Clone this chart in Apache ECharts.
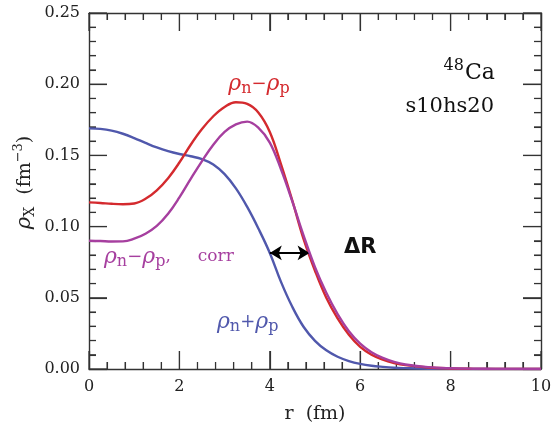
<!DOCTYPE html>
<html>
<head>
<meta charset="utf-8">
<script src="https://cdn.jsdelivr.net/npm/echarts@6/dist/echarts.min.js"></script>
<style>html,body{margin:0;padding:0;background:#fff}#c{width:554px;height:425px}</style>
</head>
<body>
<div id="c"></div>
<script>
// radius grid (fm)
var rValues = [0,0.25,0.5,0.75,1.0,1.25,1.5,1.75,2.0,2.25,2.5,2.75,3.0,3.25,3.5,3.75,4.0,4.25,4.5,4.75,5.0,5.25,5.5,5.75,6.0,6.25,6.5,6.75,7.0,7.5,8.0,8.5,9.0,10.0];
// rho_n + rho_p
var rhoSum = [0.1690,0.1686,0.1674,0.1652,0.1622,0.1588,0.1556,0.1530,0.1510,0.1494,0.1474,0.1436,0.1368,0.1268,0.1138,0.0985,0.0815,0.0610,0.0435,0.0295,0.0198,0.0131,0.0086,0.0056,0.0036,0.0023,0.0015,0.0009,0.0006,0.0002,0.0001,0.0,0.0,0.0];
// rho_n - rho_p
var rhoDiff = [0.1170,0.1166,0.1160,0.1157,0.1162,0.1195,0.1255,0.1340,0.1450,0.1575,0.1685,0.1775,0.1840,0.1873,0.1862,0.1800,0.1665,0.1435,0.1180,0.0910,0.0690,0.0500,0.0355,0.0240,0.0155,0.0100,0.0065,0.0042,0.0027,0.0011,0.0004,0.0001,0.0,0.0];
// rho_n - rho_p, corr
var rhoDiffCorr = [0.0901,0.0899,0.0895,0.0896,0.0915,0.0950,0.1005,0.1090,0.1205,0.1335,0.1460,0.1575,0.1665,0.1718,0.1737,0.1693,0.1590,0.1400,0.1175,0.0935,0.0715,0.0535,0.0385,0.0265,0.0178,0.0118,0.0078,0.0050,0.0032,0.0013,0.0005,0.0002,0.0001,0.0];
// Delta R arrow (r from, r to, height)
var deltaR = {from: 4.0, to: 4.88, y: 0.0815};

// tick positions (major + minor)
var xTickValues = [0,0.4,0.8,1.2,1.6,2,2.4,2.8,3.2,3.6,4,4.4,4.8,5.2,5.6,6,6.4,6.8,7.2,7.6,8,8.4,8.8,9.2,9.6,10];
var yTickValues = [0,0.01,0.02,0.03,0.04,0.05,0.06,0.07,0.08,0.09,0.10,0.11,0.12,0.13,0.14,0.15,0.16,0.17,0.18,0.19,0.20,0.21,0.22,0.23,0.24,0.25];

var xRange = {min: 0, max: 10, interval: 2};
var yRange = {min: 0, max: 0.25, interval: 0.05};

function pairs(ys){ return rValues.map(function(r,i){ return [r, ys[i]]; }); }

var SERIF = '"DejaVu Serif", serif';
var AX = '#333';
var RED = '#d42a2e', PUR = '#a63f9f', BLU = '#5058ac';
var MAJOR_LEN = 18, MINOR_LEN = 7;

function axis(pos, showLabel, range){
  return {
    type: 'value', position: pos, min: range.min, max: range.max, interval: range.interval,
    axisLine: {show: true, onZero: false, lineStyle: {color: AX, width: 1.4}},
    axisTick: {show: true, inside: true, length: MAJOR_LEN, lineStyle: {color: AX, width: 1.2}},
    minorTick: {show: true, splitNumber: 5, length: MINOR_LEN, lineStyle: {color: AX, width: 1.1}},
    splitLine: {show: false},
    axisLabel: {show: showLabel, fontFamily: SERIF, fontSize: 16, color: '#222', margin: pos === 'bottom' ? 10 : 9}
  };
}

var yLeft = axis('left', true, yRange);
yLeft.axisLabel.formatter = function(v){ return v.toFixed(2); };

function isMajor(v, step){ var q = v / step; return Math.abs(q - Math.round(q)) < 1e-6; }
function tickSeries(side){
  var isX = side === 'bottom' || side === 'top';
  var data = isX ? xTickValues.map(function(v){ return [v, yRange.min]; })
                 : yTickValues.map(function(v){ return [xRange.min, v]; });
  return {
    type: 'custom', name: 'ticks-' + side, silent: true, clip: false, z: 2, data: data,
    renderItem: function(params, api){
      var vx = api.value(0), vy = api.value(1), p, len, s;
      if (isX) {
        len = isMajor(vx, xRange.interval) ? MAJOR_LEN : MINOR_LEN;
        if (side === 'bottom') { p = api.coord([vx, yRange.min]); s = {x1: p[0], y1: p[1], x2: p[0], y2: p[1] - len}; }
        else { p = api.coord([vx, yRange.max]); s = {x1: p[0], y1: p[1], x2: p[0], y2: p[1] + len}; }
      } else {
        len = isMajor(vy, yRange.interval) ? MAJOR_LEN : MINOR_LEN;
        if (side === 'left') { p = api.coord([xRange.min, vy]); s = {x1: p[0], y1: p[1], x2: p[0] + len, y2: p[1]}; }
        else { p = api.coord([xRange.max, vy]); s = {x1: p[0], y1: p[1], x2: p[0] - len, y2: p[1]}; }
      }
      return {type: 'line', shape: s, style: {stroke: AX, lineWidth: 1.2}};
    }
  };
}

var chart = echarts.init(document.getElementById('c'));
chart.setOption({
  animation: false,
  backgroundColor: '#fff',
  grid: {left: 89, right: 13, top: 13, bottom: 56, outerBoundsMode: 'none'},
  xAxis: [axis('bottom', true, xRange), axis('top', false, xRange)],
  yAxis: [yLeft, axis('right', false, yRange)],
  series: [
    tickSeries('bottom'), tickSeries('top'), tickSeries('left'), tickSeries('right'),
    {type: 'line', name: 'sum', data: pairs(rhoSum), smooth: 0.4, showSymbol: false, lineStyle: {color: BLU, width: 2.4}, z: 3,
      markLine: {silent: true, symbol: ['arrow', 'arrow'], symbolSize: [11, 12], label: {show: false},
        lineStyle: {color: '#000', width: 2, type: 'solid'},
        data: [[{coord: [deltaR.from, deltaR.y]}, {coord: [deltaR.to, deltaR.y]}]]}},
    {type: 'line', name: 'diff', data: pairs(rhoDiff), smooth: 0.4, showSymbol: false, lineStyle: {color: RED, width: 2.4}, z: 4},
    {type: 'line', name: 'corr', data: pairs(rhoDiffCorr), smooth: 0.4, showSymbol: false, lineStyle: {color: PUR, width: 2.4}, z: 5}
  ]
});

// text annotations placed through the chart's coordinate conversion
function rhoRich(color){
  return {
    rho: {fontFamily: SERIF, fontStyle: 'italic', fontSize: 22, fill: color},
    sub: {fontFamily: SERIF, fontSize: 16, fill: color, padding: [10, 0, 0, 0]},
    op: {fontFamily: SERIF, fontSize: 18, fill: color},
    t: {fontFamily: SERIF, fontSize: 17, fill: color}
  };
}
function txt(pos, text, rich, align, extra){
  var p = chart.convertToPixel({gridIndex: 0}, pos);
  var el = {type: 'text', x: p[0], y: p[1], z: 50, silent: true,
    style: {text: text, rich: rich, align: align || 'center', verticalAlign: 'middle'}};
  if (extra) Object.assign(el, extra);
  return el;
}
var graphics = [
  txt([3.76, 0.200], '{rho|ρ}{sub|n}{op|−}{rho|ρ}{sub|p}', rhoRich(RED)),
  txt([0.33, 0.0787], '{rho|ρ}{sub|n}{op|−}{rho|ρ}{sub|p}{t|,     corr}', rhoRich(PUR), 'left'),
  txt([2.83, 0.033], '{rho|ρ}{sub|n}{op|+}{rho|ρ}{sub|p}', rhoRich(BLU), 'left'),
  txt([6.0, 0.0855], '{d|ΔR}', {d: {fontFamily: '"DejaVu Sans", sans-serif', fontWeight: 'bold', fontSize: 21, fill: '#111'}}),
  txt([8.98, 0.208], '{s|48}{c|Ca}', {s: {fontFamily: SERIF, fontSize: 16, fill: '#111', padding: [0, 1, 13, 0]}, c: {fontFamily: SERIF, fontSize: 22, fill: '#111'}}, 'right'),
  txt([8.96, 0.1840], '{c|s10hs20}', {c: {fontFamily: SERIF, fontSize: 21, fill: '#111'}}, 'right'),
  // axis titles
  txt([5, 0], '{n|r  (fm)}', {n: {fontFamily: SERIF, fontSize: 19, fill: '#222'}}, 'center', {y: chart.convertToPixel({yAxisIndex: 0}, 0) + 45}),
  txt([0, 0.131], '{rho|ρ}{sub|X}{n|  (fm}{sup|−3}{n|)}', {
    rho: {fontFamily: SERIF, fontStyle: 'italic', fontSize: 21, fill: '#222'},
    sub: {fontFamily: SERIF, fontSize: 14, fill: '#222', padding: [10, 0, 0, 0]},
    n: {fontFamily: SERIF, fontSize: 19, fill: '#222'},
    sup: {fontFamily: SERIF, fontSize: 13, fill: '#222', padding: [0, 0, 12, 0]}
  }, 'center', {x: chart.convertToPixel({xAxisIndex: 0}, 0) - 64, rotation: Math.PI / 2})
];
chart.setOption({graphic: graphics});
</script>
</body>
</html>
